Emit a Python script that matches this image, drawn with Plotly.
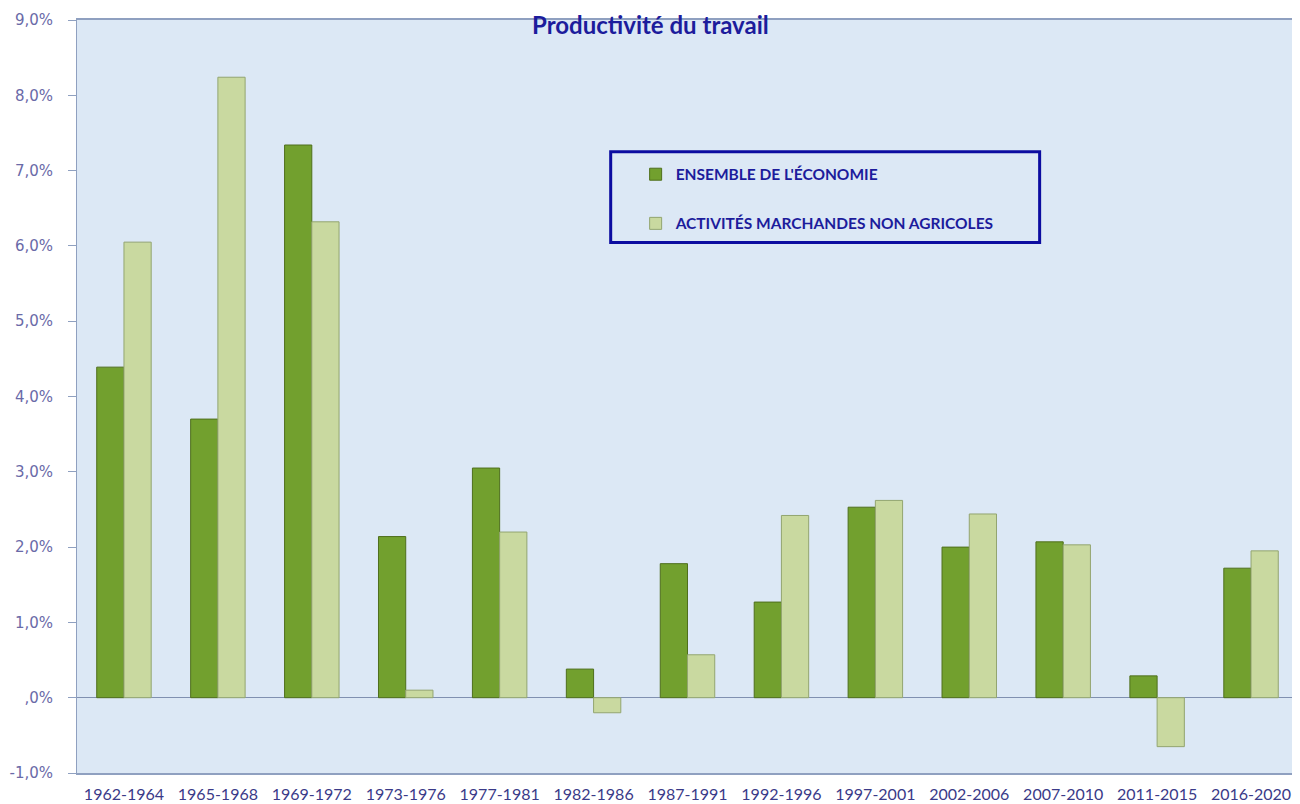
import plotly.graph_objects as go

periods = ["1962-1964", "1965-1968", "1969-1972", "1973-1976", "1977-1981", "1982-1986",
           "1987-1991", "1992-1996", "1997-2001", "2002-2006", "2007-2010", "2011-2015", "2016-2020"]
ensemble = [4.39, 3.70, 7.34, 2.14, 3.05, 0.38, 1.78, 1.27, 2.53, 2.00, 2.07, 0.29, 1.72]
marchandes = [6.05, 8.24, 6.32, 0.10, 2.20, -0.20, 0.57, 2.42, 2.62, 2.44, 2.03, -0.65, 1.95]
tick_vals = [-1, 0, 1, 2, 3, 4, 5, 6, 7, 8, 9]
tick_text = ["-1,0%", ",0%", "1,0%", "2,0%", "3,0%", "4,0%", "5,0%", "6,0%", "7,0%", "8,0%", "9,0%"]

# page has an 8px body margin; figure coordinates = page - 8
PL, PT, PB, PR = 75, 20, 775, 1299
PW = PR - PL
PH = PB - PT

def px(x):
    return (x - PL) / PW

def py(y):
    return (PB - y) / PH

fig = go.Figure()
fig.add_trace(go.Bar(x=periods, y=ensemble, name="ENSEMBLE DE L'ÉCONOMIE",
                     legendgroup="a",
                     marker=dict(color="#72a02e", line=dict(color="#4f6f1c", width=1))))
fig.add_trace(go.Bar(x=periods, y=marchandes, name="ACTIVITÉS MARCHANDES NON AGRICOLES",
                     legendgroup="b",
                     marker=dict(color="#c9d9a0", line=dict(color="#93a570", width=1))))

fig.add_shape(type="rect", xref="paper", yref="paper",
              x0=px(610), x1=px(1040), y0=py(243), y1=py(152),
              line=dict(color="#0c0ca0", width=3), fillcolor="rgba(0,0,0,0)")

fig.add_annotation(text="<b>Productivité du travail</b>", xref="paper", yref="paper",
                   x=px(650), y=py(8), yanchor="top", showarrow=False,
                   font=dict(family="Lato, Open Sans, sans-serif", size=24, color="#1c1c9c"))

fig.update_layout(
    width=1292, height=796,
    margin=dict(l=PL - 8, r=1, t=PT - 8, b=796 - (PB - 8)),
    paper_bgcolor="white",
    plot_bgcolor="#dce8f5",
    barmode="group", bargap=0.42, bargroupgap=0.0,
    showlegend=True,
    legend=dict(x=px(635), y=py(158), xanchor="left", yanchor="top",
                bgcolor="rgba(0,0,0,0)", borderwidth=0, tracegroupgap=26,
                font=dict(family="Lato, Open Sans, sans-serif", size=15.5, color="#1c1c9c", weight="bold")),
    font=dict(family="Lato, sans-serif"),
)
fig.update_yaxes(range=[-1, 9], tickvals=tick_vals, ticktext=tick_text,
                 showgrid=False, zeroline=True, zerolinecolor="#8090b0", zerolinewidth=1,
                 showline=True, linecolor="#8fa0c0", linewidth=1, mirror=True,
                 ticks="outside", ticklen=8, tickcolor="#8fa0c0", ticklabelstandoff=12,
                 tickfont=dict(family="DejaVu Sans, Verdana, sans-serif", size=15, color="#6a6aa8"))
fig.update_xaxes(showgrid=False, showline=True, linecolor="#8fa0c0", linewidth=2, mirror=True,
                 ticks="", ticklabelstandoff=6,
                 tickfont=dict(family="Lato, Open Sans, sans-serif", size=16, color="#3a3a88"))

fig.write_html("out.html")
